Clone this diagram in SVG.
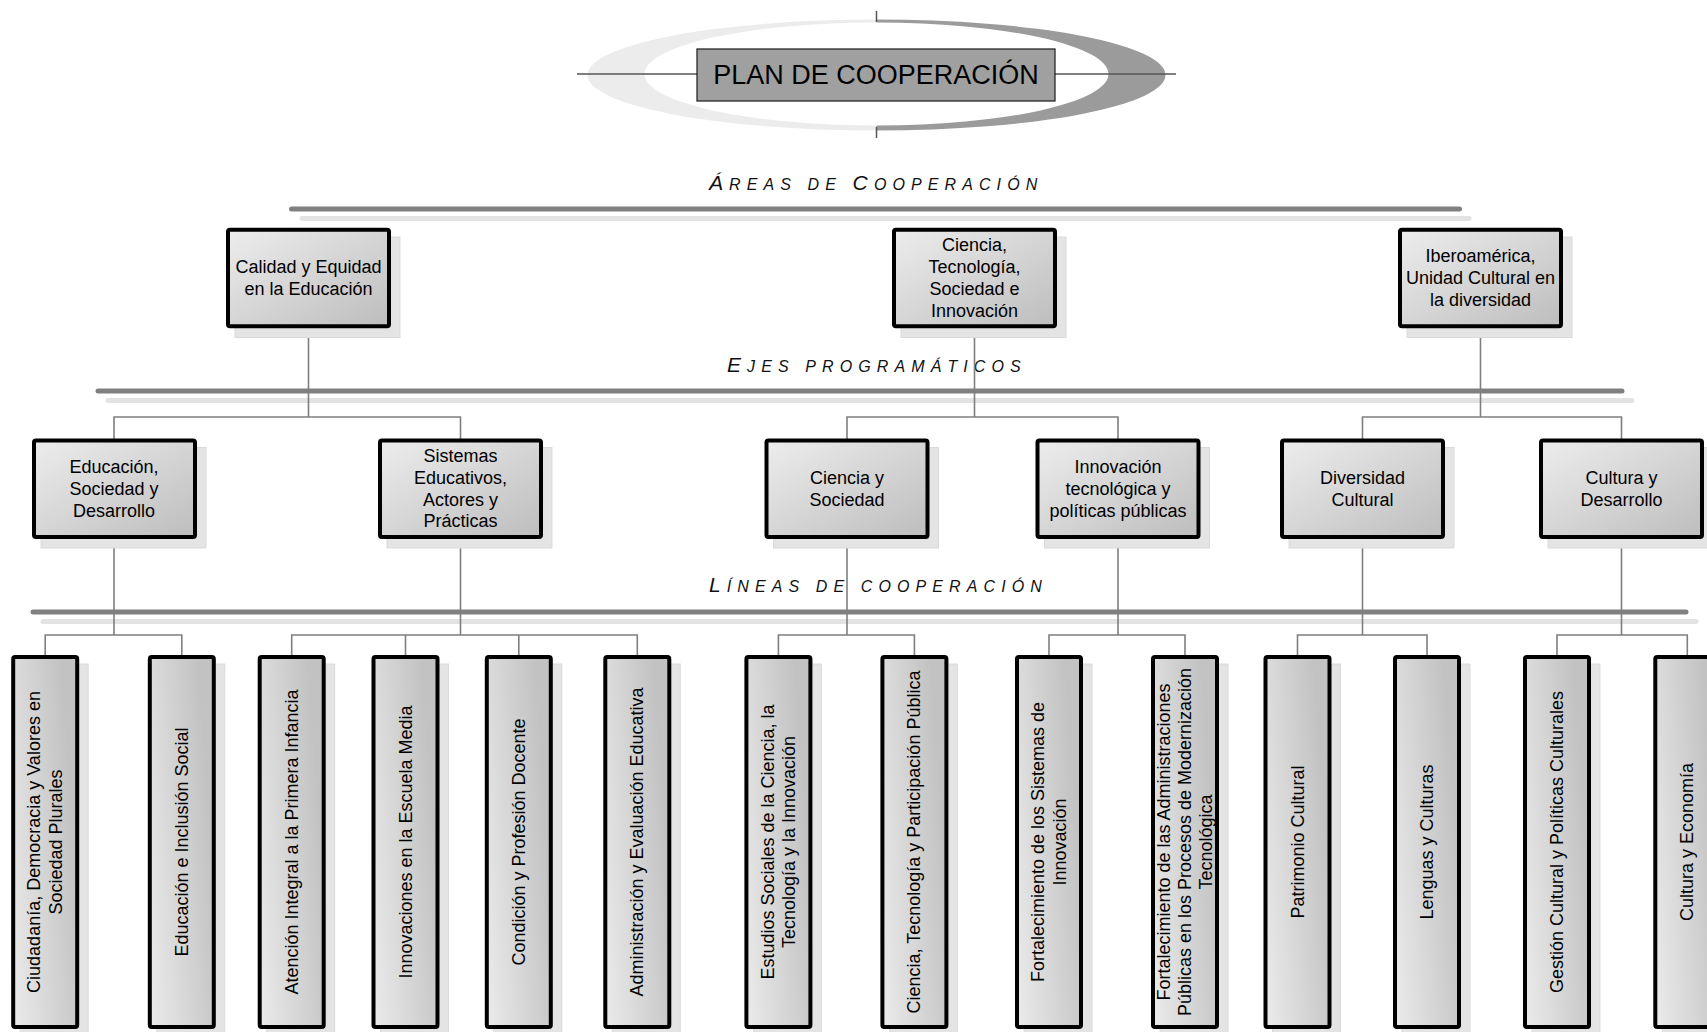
<svg xmlns="http://www.w3.org/2000/svg" width="1707" height="1032" viewBox="0 0 1707 1032">
  <defs>
    <linearGradient id="gw" x1="0" y1="0" x2="1" y2="1">
      <stop offset="0" stop-color="#ededed"/>
      <stop offset="1" stop-color="#bdbdbd"/>
    </linearGradient>
    <linearGradient id="gt" x1="0" y1="1" x2="1" y2="0.55">
      <stop offset="0" stop-color="#ebebeb"/>
      <stop offset="1" stop-color="#c2c2c2"/>
    </linearGradient>
    <clipPath id="half-l"><rect x="0" y="0" width="876.5" height="160"/></clipPath>
    <clipPath id="half-r"><rect x="876.5" y="0" width="831" height="160"/></clipPath>
    <style>
      .sh { fill: #e4e4e4; stroke: #dadada; stroke-width: 1; }
      .box { fill: url(#gw); stroke: #000; stroke-width: 4; }
      .tall { fill: url(#gt); stroke: #000; stroke-width: 4; }
      .t { font-family: "Liberation Sans", Arial, sans-serif; font-size: 18px; fill: #000; text-anchor: middle; }
      .hd { font-family: "Liberation Sans", Arial, sans-serif; font-style: italic; font-size: 16px; letter-spacing: 6.1px; fill: #111; }
      .hd .big { font-size: 21px; }
      .bar { stroke: #808080; stroke-width: 5; stroke-linecap: round; fill: none; }
      .bar-sh { stroke: #e3e3e3; stroke-width: 5; stroke-linecap: round; fill: none; }
      .edge { stroke: #7f7f7f; stroke-width: 1.6; fill: none; }
    </style>
  </defs>

  <rect width="1707" height="1032" fill="#fff"/>

  <!-- title emblem -->
  <g id="title">
    <path d="M587.5,75 a289,55.5 0 1,0 578,0 a289,55.5 0 1,0 -578,0 Z M644.5,74 a232,51.5 0 1,0 464,0 a232,51.5 0 1,0 -464,0 Z" fill="#ececec" fill-rule="evenodd" clip-path="url(#half-l)"/>
    <path d="M587.5,75 a289,55.5 0 1,0 578,0 a289,55.5 0 1,0 -578,0 Z M644.5,74 a232,51.5 0 1,0 464,0 a232,51.5 0 1,0 -464,0 Z" fill="#9b9b9b" fill-rule="evenodd" clip-path="url(#half-r)"/>
    <path d="M577 74H1176 M876.5 11V22 M876.5 127V138" stroke="#555" stroke-width="1.5" fill="none"/>
    <rect x="697" y="49" width="358" height="52" fill="#a0a0a0" stroke="#1a1a1a" stroke-width="1.2"/>
    <text x="876" y="84" font-family="Liberation Sans, Arial, sans-serif" font-size="27" text-anchor="middle" fill="#000">PLAN DE COOPERACIÓN</text>
  </g>

  <!-- level bars -->
  <g id="bars">
    <path class="bar-sh" d="M302 218.5H1469"/>
    <path class="bar" d="M291.5 209H1459.5"/>
    <path class="bar-sh" d="M108 400.5H1632"/>
    <path class="bar" d="M98 391H1622"/>
    <path class="bar-sh" d="M43 621.5H1696"/>
    <path class="bar" d="M33 612H1686"/>
  </g>

  <!-- level headings -->
  <g id="headings">
    <text class="hd" x="709" y="190"><tspan class="big">Á</tspan>REAS DE <tspan class="big">C</tspan>OOPERACIÓN</text>
    <text class="hd" x="727" y="372"><tspan class="big">E</tspan>JES PROGRAMÁTICOS</text>
    <text class="hd" x="709" y="592"><tspan class="big">L</tspan>ÍNEAS DE COOPERACIÓN</text>
  </g>

  <!-- connectors -->
  <g id="connectors">
    <path class="edge" d="M308.5 328V417 M114 440V417H460.5V440"/>
    <path class="edge" d="M974.5 328V417 M847 440V417H1118V440"/>
    <path class="edge" d="M1480.5 328V417 M1362.5 440V417H1621.5V440"/>
    <path class="edge" d="M114 539V635 M45.2 655V635H181.8V655"/>
    <path class="edge" d="M460.5 539V635 M291.7 655V635H637.3V655 M405.5 635V655 M518.8 635V655"/>
    <path class="edge" d="M847 539V635 M778.4 655V635H914.4V655"/>
    <path class="edge" d="M1118 539V635 M1049 655V635H1185V655"/>
    <path class="edge" d="M1362.5 539V635 M1297.5 655V635H1427V655"/>
    <path class="edge" d="M1621.5 539V635 M1557 655V635H1687.3V655"/>
  </g>

  <!-- areas -->
  <g id="area-calidad">
    <rect class="sh" x="235" y="237" width="165" height="100.5"/>
    <rect class="box" x="228" y="229.7" width="161" height="96.5" rx="2"/>
    <text class="t" x="308.5"><tspan x="308.5" y="273">Calidad y Equidad</tspan><tspan x="308.5" y="294.8">en la Educación</tspan></text>
  </g>
  <g id="area-ciencia">
    <rect class="sh" x="901" y="237" width="165" height="100.5"/>
    <rect class="box" x="894" y="229.7" width="161" height="96.5" rx="2"/>
    <text class="t" x="974.5"><tspan x="974.5" y="251.3">Ciencia,</tspan><tspan x="974.5" y="273.1">Tecnología,</tspan><tspan x="974.5" y="294.9">Sociedad e</tspan><tspan x="974.5" y="316.7">Innovación</tspan></text>
  </g>
  <g id="area-iberoamerica">
    <rect class="sh" x="1407" y="237" width="165" height="100.5"/>
    <rect class="box" x="1400" y="229.7" width="161" height="96.5" rx="2"/>
    <text class="t" x="1480.5"><tspan x="1480.5" y="262.2">Iberoamérica,</tspan><tspan x="1480.5" y="284">Unidad Cultural en</tspan><tspan x="1480.5" y="305.8">la diversidad</tspan></text>
  </g>

  <!-- programme axes -->
  <g id="eje-educacion">
    <rect class="sh" x="41" y="447.5" width="165" height="100.5"/>
    <rect class="box" x="34" y="440.5" width="161" height="96.5" rx="2"/>
    <text class="t"><tspan x="114" y="472.9">Educación,</tspan><tspan x="114" y="494.7">Sociedad y</tspan><tspan x="114" y="516.5">Desarrollo</tspan></text>
  </g>
  <g id="eje-sistemas">
    <rect class="sh" x="387" y="447.5" width="165" height="100.5"/>
    <rect class="box" x="380" y="440.5" width="161" height="96.5" rx="2"/>
    <text class="t"><tspan x="460.5" y="462">Sistemas</tspan><tspan x="460.5" y="483.8">Educativos,</tspan><tspan x="460.5" y="505.6">Actores y</tspan><tspan x="460.5" y="527.4">Prácticas</tspan></text>
  </g>
  <g id="eje-ciencia-sociedad">
    <rect class="sh" x="773.5" y="447.5" width="165" height="100.5"/>
    <rect class="box" x="766.5" y="440.5" width="161" height="96.5" rx="2"/>
    <text class="t"><tspan x="847" y="484">Ciencia y</tspan><tspan x="847" y="505.8">Sociedad</tspan></text>
  </g>
  <g id="eje-innovacion">
    <rect class="sh" x="1044.5" y="447.5" width="165" height="100.5"/>
    <rect class="box" x="1037.5" y="440.5" width="161" height="96.5" rx="2"/>
    <text class="t"><tspan x="1118" y="472.9">Innovación</tspan><tspan x="1118" y="494.7">tecnológica y</tspan><tspan x="1118" y="516.5">políticas públicas</tspan></text>
  </g>
  <g id="eje-diversidad">
    <rect class="sh" x="1289" y="447.5" width="165" height="100.5"/>
    <rect class="box" x="1282" y="440.5" width="161" height="96.5" rx="2"/>
    <text class="t"><tspan x="1362.5" y="484">Diversidad</tspan><tspan x="1362.5" y="505.8">Cultural</tspan></text>
  </g>
  <g id="eje-cultura">
    <rect class="sh" x="1548" y="447.5" width="165" height="100.5"/>
    <rect class="box" x="1541" y="440.5" width="161" height="96.5" rx="2"/>
    <text class="t"><tspan x="1621.5" y="484">Cultura y</tspan><tspan x="1621.5" y="505.8">Desarrollo</tspan></text>
  </g>

  <!-- cooperation lines (vertical labels) -->
  <g id="linea-ciudadania">
    <rect class="sh" x="20.2" y="664" width="68" height="374"/>
    <rect class="tall" x="13.2" y="657" width="64" height="370" rx="2"/>
    <text class="t" transform="translate(45.2 842) rotate(-90)"><tspan x="0" y="-4.9">Ciudadanía, Democracia y Valores en</tspan><tspan x="0" y="16.9">Sociedad Plurales</tspan></text>
  </g>
  <g id="linea-inclusion">
    <rect class="sh" x="156.8" y="664" width="68" height="374"/>
    <rect class="tall" x="149.8" y="657" width="64" height="370" rx="2"/>
    <text class="t" transform="translate(181.8 842) rotate(-90)" x="0" y="6">Educación e Inclusión Social</text>
  </g>
  <g id="linea-infancia">
    <rect class="sh" x="266.7" y="664" width="68" height="374"/>
    <rect class="tall" x="259.7" y="657" width="64" height="370" rx="2"/>
    <text class="t" transform="translate(291.7 842) rotate(-90)" x="0" y="6">Atención Integral a la Primera Infancia</text>
  </g>
  <g id="linea-escuela-media">
    <rect class="sh" x="380.5" y="664" width="68" height="374"/>
    <rect class="tall" x="373.5" y="657" width="64" height="370" rx="2"/>
    <text class="t" transform="translate(405.5 842) rotate(-90)" x="0" y="6">Innovaciones en la Escuela Media</text>
  </g>
  <g id="linea-docente">
    <rect class="sh" x="493.8" y="664" width="68" height="374"/>
    <rect class="tall" x="486.8" y="657" width="64" height="370" rx="2"/>
    <text class="t" transform="translate(518.8 842) rotate(-90)" x="0" y="6">Condición y Profesión Docente</text>
  </g>
  <g id="linea-evaluacion">
    <rect class="sh" x="612.3" y="664" width="68" height="374"/>
    <rect class="tall" x="605.3" y="657" width="64" height="370" rx="2"/>
    <text class="t" transform="translate(637.3 842) rotate(-90)" x="0" y="6">Administración y Evaluación Educativa</text>
  </g>
  <g id="linea-estudios-sociales">
    <rect class="sh" x="753.4" y="664" width="68" height="374"/>
    <rect class="tall" x="746.4" y="657" width="64" height="370" rx="2"/>
    <text class="t" transform="translate(778.4 842) rotate(-90)"><tspan x="0" y="-4.9">Estudios Sociales de la Ciencia, la</tspan><tspan x="0" y="16.9">Tecnología y la Innovación</tspan></text>
  </g>
  <g id="linea-participacion">
    <rect class="sh" x="889.4" y="664" width="68" height="374"/>
    <rect class="tall" x="882.4" y="657" width="64" height="370" rx="2"/>
    <text class="t" transform="translate(914.4 842) rotate(-90)" x="0" y="6">Ciencia, Tecnología y Participación Pública</text>
  </g>
  <g id="linea-sistemas-innovacion">
    <rect class="sh" x="1024" y="664" width="68" height="374"/>
    <rect class="tall" x="1017" y="657" width="64" height="370" rx="2"/>
    <text class="t" transform="translate(1049 842) rotate(-90)"><tspan x="0" y="-4.9">Fortalecimiento de los Sistemas de</tspan><tspan x="0" y="16.9">Innovación</tspan></text>
  </g>
  <g id="linea-administraciones">
    <rect class="sh" x="1160" y="664" width="68" height="374"/>
    <rect class="tall" x="1153" y="657" width="64" height="370" rx="2"/>
    <text class="t" transform="translate(1185 842) rotate(-90)"><tspan x="0" y="-15">Fortalecimiento de las Administraciones</tspan><tspan x="0" y="6">Públicas en los Procesos de Modernización</tspan><tspan x="0" y="27">Tecnológica</tspan></text>
  </g>
  <g id="linea-patrimonio">
    <rect class="sh" x="1272.5" y="664" width="68" height="374"/>
    <rect class="tall" x="1265.5" y="657" width="64" height="370" rx="2"/>
    <text class="t" transform="translate(1297.5 842) rotate(-90)" x="0" y="6">Patrimonio Cultural</text>
  </g>
  <g id="linea-lenguas">
    <rect class="sh" x="1402" y="664" width="68" height="374"/>
    <rect class="tall" x="1395" y="657" width="64" height="370" rx="2"/>
    <text class="t" transform="translate(1427 842) rotate(-90)" x="0" y="6">Lenguas y Culturas</text>
  </g>
  <g id="linea-gestion">
    <rect class="sh" x="1532" y="664" width="68" height="374"/>
    <rect class="tall" x="1525" y="657" width="64" height="370" rx="2"/>
    <text class="t" transform="translate(1557 842) rotate(-90)" x="0" y="6">Gestión Cultural y Políticas Culturales</text>
  </g>
  <g id="linea-economia">
    <rect class="sh" x="1662.3" y="664" width="68" height="374"/>
    <rect class="tall" x="1655.3" y="657" width="64" height="370" rx="2"/>
    <text class="t" transform="translate(1687.3 842) rotate(-90)" x="0" y="6">Cultura y Economía</text>
  </g>
</svg>
